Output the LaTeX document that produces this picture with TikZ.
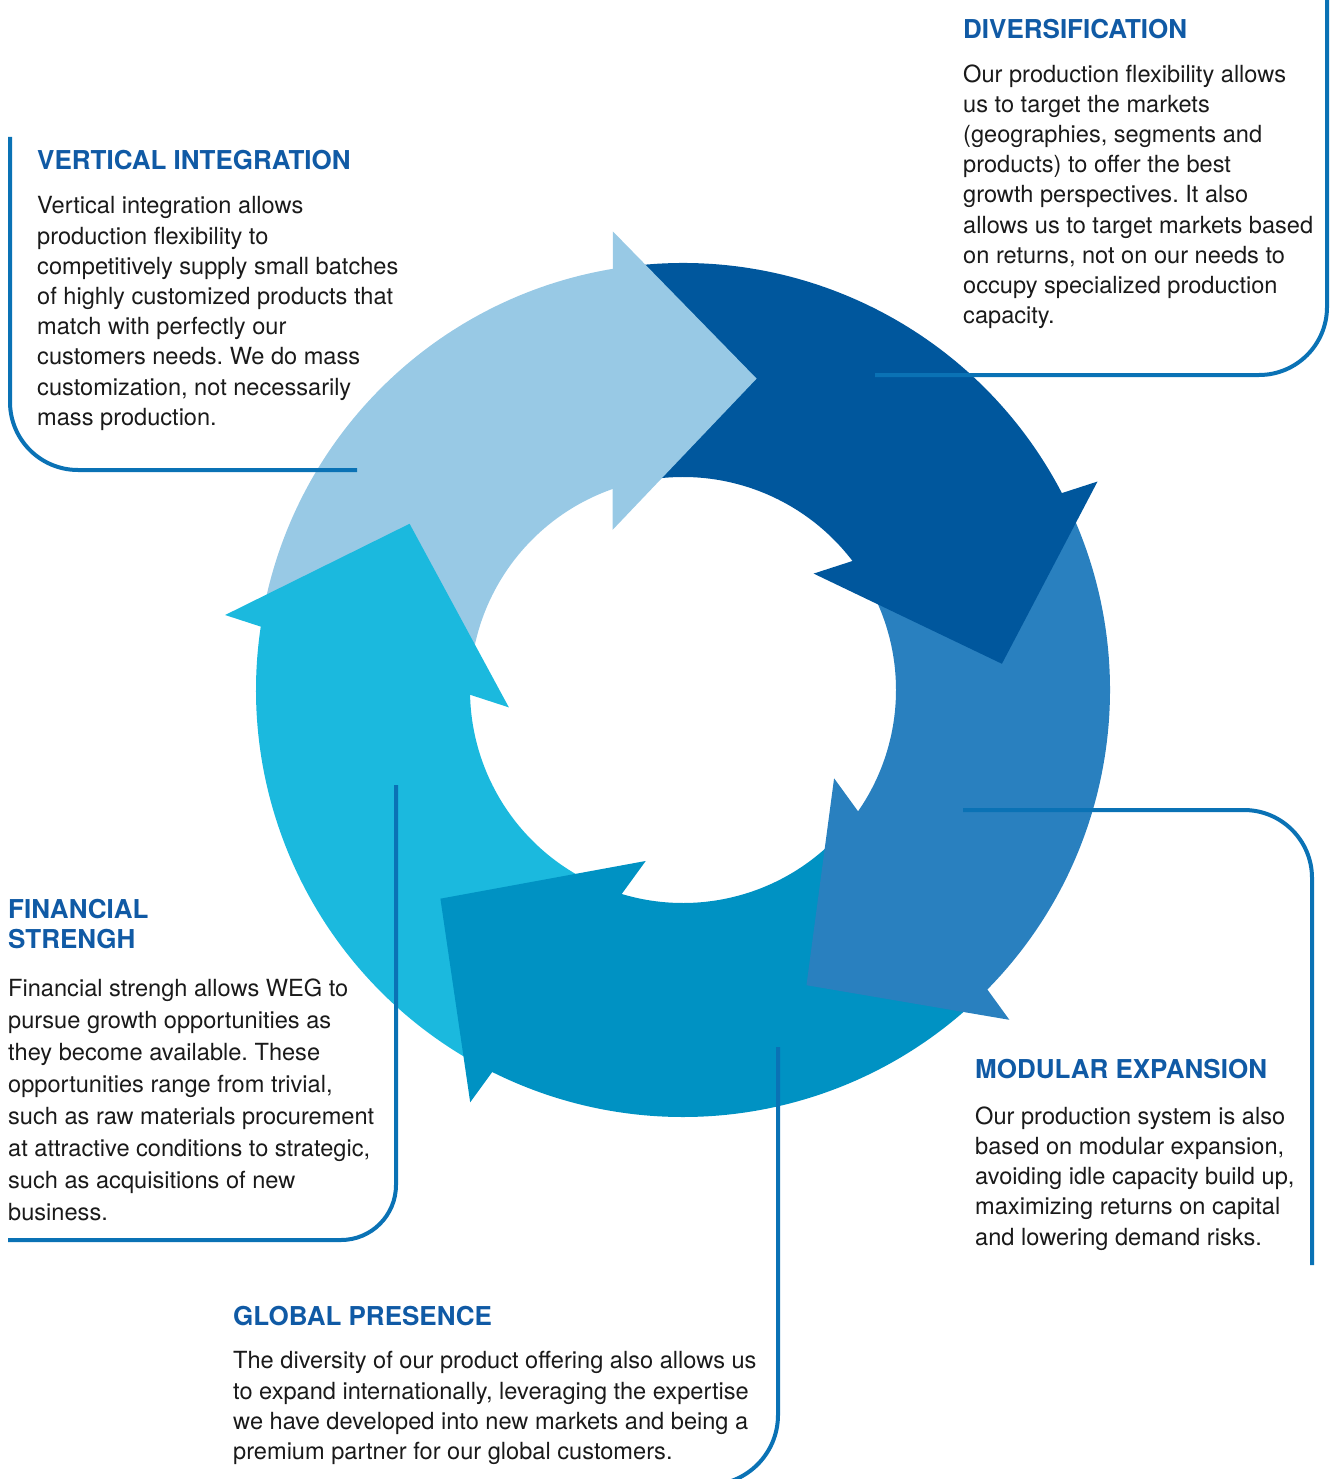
\documentclass[tikz,border=0pt]{standalone}
\usepackage{fontspec}
\setmainfont{TeX Gyre Heros}
\frenchspacing

\definecolor{vertblue}{RGB}{152,201,229}
\definecolor{diverblue}{RGB}{0,87,157}
\definecolor{modblue}{RGB}{41,128,191}
\definecolor{globblue}{RGB}{0,146,195}
\definecolor{finblue}{RGB}{27,185,222}
\definecolor{headblue}{RGB}{16,90,165}
\definecolor{lineblue}{RGB}{10,114,181}
\definecolor{textgray}{RGB}{26,26,26}

\tikzset{
	heading/.style={anchor=north west, inner sep=0pt, align=left,
		text=headblue, font=\fontsize{26}{30.5}\selectfont\bfseries},
	bodytext/.style={anchor=north west, inner sep=0pt, align=left,
		text=textgray, font=\fontsize{23.6}{30.2}\selectfont},
	callout/.style={draw=lineblue, line width=4pt, rounded corners=68pt},
}

\begin{document}
\begin{tikzpicture}[x=1pt,y=1pt]

\useasboundingbox (0,0) rectangle (1332,-1479);
\clip (0,0) rectangle (1332,-1479);

%Cycle
\begin{scope}[shift={(683,-690)}]
\foreach \rot/\col in {0/vertblue,-72/diverblue,-144/modblue,-216/globblue,-288/finblue}{
	\fill[\col, rotate=\rot] (170:427) arc[start angle=170, end angle=99.2, radius=427]
		-- (108.8:213) arc[start angle=108.8, end angle=170, radius=213] -- cycle;
}
%Arrow heads
\foreach \rot/\col in {0/vertblue,-72/diverblue,-144/modblue,-216/globblue,-288/finblue}{
	\fill[\col, rotate=\rot] (98.7:464) -- (76.7:320) -- (113.7:175) -- cycle;
}
\end{scope}

%Vertical Integration
\node [heading]  (vihead) at (37,-149.6) {VERTICAL INTEGRATION};
\node [bodytext]  (vitext) at (37,-196.5) {Vertical integration allows\\
	production flexibility to\\
	competitively supply small batches\\
	of highly customized products that\\
	match with perfectly our\\
	customers needs. We do mass\\
	customization, not necessarily\\
	mass production.};
\coordinate (vistart) at (357,-470);
\coordinate (viend) at (10,-137);
\draw[callout] (vistart) -| (viend);

%Diversification
\node [heading]  (divhead) at (963,-18.6) {DIVERSIFICATION};
\node [bodytext]  (divtext) at (963,-64.2) {Our production flexibility allows\\
	us to target the markets\\
	(geographies, segments and\\
	products) to offer the best\\
	growth perspectives. It also\\
	allows us to target markets based\\
	on returns, not on our needs to\\
	occupy specialized production\\
	capacity.};
\coordinate (divstart) at (875,-375);
\coordinate (divend) at (1327,2);
\draw[callout] (divstart) -| (divend);

%Modular Expansion
\node [heading]  (modhead) at (975,-1058.6) {MODULAR EXPANSION};
\node [bodytext]  (modtext) at (975,-1106.5) {Our production system is also\\
	based on modular expansion,\\
	avoiding idle capacity build up,\\
	maximizing returns on capital\\
	and lowering demand risks.};
\coordinate (modstart) at (963,-810);
\coordinate (modend) at (1312,-1265);
\draw[callout] (modstart) -| (modend);

%Global Presence
\node [heading]  (globhead) at (233,-1306.3) {GLOBAL PRESENCE};
\node [bodytext]  (globtext) at (233,-1351.5) {The diversity of our product offering also allows us\\
	to expand internationally, leveraging the expertise\\
	we have developed into new markets and being a\\
	premium partner for our global customers.};
\coordinate (globstart) at (778,-1047);
\coordinate (globend) at (640,-1485);
\draw[callout, rounded corners=70pt] (globstart) |- (globend);

%Financial Strength
\node [heading]  (finhead) at (8,-899) {FINANCIAL\\STRENGH};
\node [bodytext, font=\fontsize{23.6}{32}\selectfont]  (fintext) at (8,-978.2) {Financial strengh allows WEG to\\
	pursue growth opportunities as\\
	they become available. These\\
	opportunities range from trivial,\\
	such as raw materials procurement\\
	at attractive conditions to strategic,\\
	such as acquisitions of new\\
	business.};
\coordinate (finstart) at (396,-785);
\coordinate (finend) at (8,-1240);
\draw[callout, rounded corners=55pt] (finstart) |- (finend);

\end{tikzpicture}
\end{document}
